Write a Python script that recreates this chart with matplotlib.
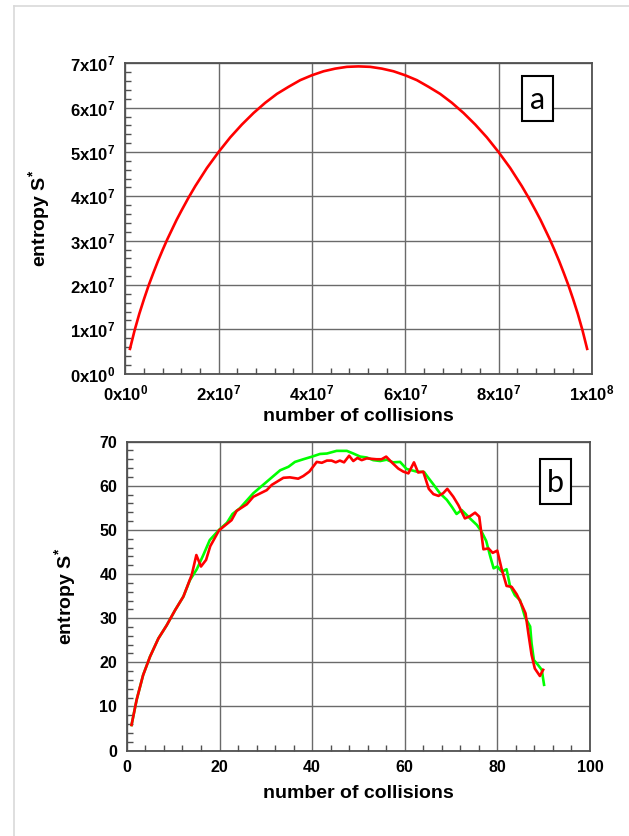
import numpy as np
import matplotlib
matplotlib.use("Agg")
import matplotlib.pyplot as plt
from matplotlib.ticker import MultipleLocator, FuncFormatter
from matplotlib.patches import Rectangle
from matplotlib.lines import Line2D

plt.rcParams['font.family'] = ['Liberation Sans', 'DejaVu Sans']
plt.rcParams['font.weight'] = 'bold'
plt.rcParams['mathtext.fontset'] = 'custom'
plt.rcParams['mathtext.rm'] = 'Liberation Sans:bold'
plt.rcParams['mathtext.it'] = 'Liberation Sans:bold'
plt.rcParams['mathtext.bf'] = 'Liberation Sans:bold'
plt.rcParams['mathtext.default'] = 'rm'

# panel a: entropy vs number of collisions, both in units of 1e7
UNIT_A = 1e7
collisions_a = [0.1, 0.2, 0.3, 0.4, 0.5, 0.6, 0.7, 0.8, 0.9, 1.0, 1.1, 1.2, 1.35, 1.5,
                1.75, 2.0, 2.25, 2.5, 2.75, 3.0, 3.25, 3.5, 3.75, 4.0, 4.25, 4.5, 4.75,
                5.0, 5.25, 5.5, 5.75, 6.0, 6.25, 6.5, 6.75, 7.0, 7.25, 7.5, 7.75, 8.0,
                8.25, 8.5, 8.65, 8.8, 8.9, 9.0, 9.1, 9.2, 9.3, 9.4, 9.5, 9.6, 9.7, 9.8, 9.9]
entropy_a = [0.56, 0.98, 1.35, 1.68, 1.99, 2.27, 2.54, 2.79, 3.03, 3.25, 3.47, 3.67, 3.96,
             4.23, 4.64, 5.00, 5.33, 5.62, 5.88, 6.11, 6.31, 6.47, 6.62, 6.73, 6.82, 6.88,
             6.92, 6.93, 6.92, 6.88, 6.82, 6.73, 6.62, 6.47, 6.31, 6.11, 5.88, 5.62, 5.33,
             5.00, 4.64, 4.23, 3.96, 3.67, 3.47, 3.25, 3.03, 2.79, 2.54, 2.27, 1.99, 1.68,
             1.35, 0.98, 0.56]

# panel b: red and green runs
x_red = [1.0, 2.1, 3.5, 5.0, 6.8, 8.6, 10.4, 12.2, 14.0, 15.0, 16.0, 17.1, 18.0, 19.9,
         22.6, 23.7, 25.9, 27.3, 30.2, 31.3, 33.8, 35.2, 37.0, 38.1, 39.4, 41.0, 42.1,
         43.2, 44.2, 45.1, 46.0, 46.9, 48.0, 48.9, 49.8, 50.7, 51.8, 53.9, 55.0, 56.0,
         57.2, 58.6, 59.7, 60.8, 62.0, 62.9, 64.0, 65.2, 66.2, 67.3, 68.3, 69.2, 70.5,
         71.6, 73.0, 74.1, 75.2, 76.1, 77.0, 78.1, 79.0, 80.0, 80.9, 82.0, 83.1, 84.2,
         85.3, 86.1, 86.7, 87.4, 88.1, 89.2, 89.9]
s_red = [5.8, 11.5, 17.1, 21.3, 25.4, 28.4, 31.8, 34.9, 39.8, 44.3, 41.7, 43.2, 46.3, 49.9,
         52.2, 54.3, 55.8, 57.5, 59.0, 60.2, 61.8, 61.9, 61.6, 62.2, 63.2, 65.4, 65.2,
         65.7, 65.7, 65.3, 65.7, 65.3, 66.8, 65.6, 66.3, 65.8, 66.2, 66.0, 66.0, 66.6,
         65.3, 63.9, 63.2, 62.8, 65.3, 63.0, 63.2, 59.3, 58.1, 57.7, 58.3, 59.3, 57.5,
         55.6, 52.6, 53.1, 53.9, 53.0, 45.6, 45.8, 44.8, 45.3, 41.3, 37.3, 37.1, 35.4,
         33.0, 31.1, 26.6, 21.7, 18.6, 16.9, 18.3]

x_green = [1.0, 2.1, 3.5, 5.0, 6.8, 8.6, 10.4, 12.2, 13.6, 15.1, 16.5, 17.9, 19.9, 21.6,
           22.8, 24.4, 27.3, 30.2, 33.1, 34.9, 36.3, 38.1, 40.0, 41.7, 43.2, 45.3, 47.5,
           48.9, 50.4, 51.8, 53.2, 54.7, 56.1, 57.5, 59.0, 60.4, 62.6, 64.2, 65.1, 66.2,
           67.6, 69.1, 70.2, 71.2, 72.3, 74.1, 75.6, 76.6, 77.6, 78.5, 79.2, 80.0, 81.0,
           82.0, 82.7, 83.8, 84.9, 86.0, 87.1, 87.4, 87.9, 88.8, 89.6, 90.1]
s_green = [5.8, 11.5, 17.1, 21.3, 25.4, 28.4, 31.8, 34.9, 38.6, 41.1, 44.3, 47.7, 50.0, 51.6,
           53.6, 54.9, 58.3, 60.9, 63.5, 64.3, 65.4, 66.0, 66.6, 67.2, 67.3, 67.9, 67.9,
           67.3, 66.6, 66.4, 65.8, 65.6, 65.9, 65.3, 65.4, 63.8, 63.2, 63.1, 61.8, 60.3,
           58.3, 56.8, 55.2, 53.6, 54.5, 52.6, 51.1, 49.6, 47.5, 43.9, 41.3, 41.7, 40.5,
           41.1, 37.5, 35.2, 34.1, 30.2, 28.1, 24.3, 20.5, 19.4, 18.3, 14.9]

W, H = 629, 836


def sci_label(v, pos):
    if v == 0:
        return r'$0x10^{0}$'
    e = int(np.floor(np.log10(abs(v)) + 1e-9))
    return r'$%dx10^{%d}$' % (round(v / 10**e), e)


def style_axes(ax, size):
    for s in ax.spines.values():
        s.set_color('#505050')
        s.set_linewidth(1.3)
    ax.grid(True, which='major', color='#6a6a6a', lw=1.0)
    ax.set_axisbelow(True)
    ax.tick_params(which='both', direction='in', color='#505050', labelsize=size, width=1)
    ax.tick_params(which='major', length=0, pad=7)
    ax.tick_params(which='minor', length=4)


def px_axes(left, top, right, bottom):
    return fig.add_axes([left / W, 1 - bottom / H, (right - left) / W, (bottom - top) / H])


def tag(x0, y0, x1, y1, letter, base_y):
    fig.add_artist(Rectangle((x0 / W, 1 - y1 / H), (x1 - x0) / W, (y1 - y0) / H,
                             transform=fig.transFigure, fc='white', ec='black', lw=1.5))
    fig.text((x0 + x1) / 2 / W, 1 - base_y / H, letter, fontsize=22, family='Lato',
             weight='normal', ha='center', va='baseline')


fig = plt.figure(figsize=(W / 100, H / 100), dpi=100)

# light frame around the figure
fig.add_artist(Line2D([13.5 / W, 13.5 / W], [0, 1 - 6 / H], color='#d9d9d9', lw=1.2,
                      transform=fig.transFigure))
fig.add_artist(Line2D([13.5 / W, 1], [1 - 6 / H, 1 - 6 / H], color='#d9d9d9', lw=1.2,
                      transform=fig.transFigure))

# panel a
ax1 = px_axes(125.3, 63.3, 591.8, 373.7)
ax1.plot(np.array(collisions_a) * UNIT_A, np.array(entropy_a) * UNIT_A, color='#ff0000',
         lw=1.9, solid_joinstyle='round')
ax1.set_xlim(0, 1e8)
ax1.set_ylim(0, 7e7)
ax1.xaxis.set_major_locator(MultipleLocator(2e7))
ax1.xaxis.set_minor_locator(MultipleLocator(4e6))
ax1.yaxis.set_major_locator(MultipleLocator(1e7))
ax1.yaxis.set_minor_locator(MultipleLocator(2e6))
ax1.xaxis.set_major_formatter(FuncFormatter(sci_label))
ax1.yaxis.set_major_formatter(FuncFormatter(sci_label))
style_axes(ax1, 12)
ax1.set_xlabel('number of collisions', fontsize=14, fontweight='bold')
ax1.set_ylabel(r'entropy S$^{*}$', fontsize=14, fontweight='bold')
ax1.xaxis.set_label_coords(0.5, -0.11)
ax1.yaxis.set_label_coords(-0.157, 0.5)

# panel b
ax2 = px_axes(126.9, 441.6, 589.9, 750.6)
ax2.plot(x_green, s_green, color='#00ff00', lw=1.9, solid_joinstyle='round')
ax2.plot(x_red, s_red, color='#ff0000', lw=1.9, solid_joinstyle='round')
ax2.set_xlim(0, 100)
ax2.set_ylim(0, 70)
ax2.xaxis.set_major_locator(MultipleLocator(20))
ax2.xaxis.set_minor_locator(MultipleLocator(4))
ax2.yaxis.set_major_locator(MultipleLocator(10))
ax2.yaxis.set_minor_locator(MultipleLocator(2))
style_axes(ax2, 11.5)
ax2.set_xlabel('number of collisions', fontsize=14, fontweight='bold')
ax2.set_ylabel(r'entropy S$^{*}$', fontsize=14, fontweight='bold')
ax2.xaxis.set_label_coords(0.5, -0.111)
ax2.yaxis.set_label_coords(-0.105, 0.5)

tag(522, 75.7, 553, 121, 'a', 109)
tag(540, 459, 571, 504.3, 'b', 491.7)

fig.savefig('out.png', dpi=100)
